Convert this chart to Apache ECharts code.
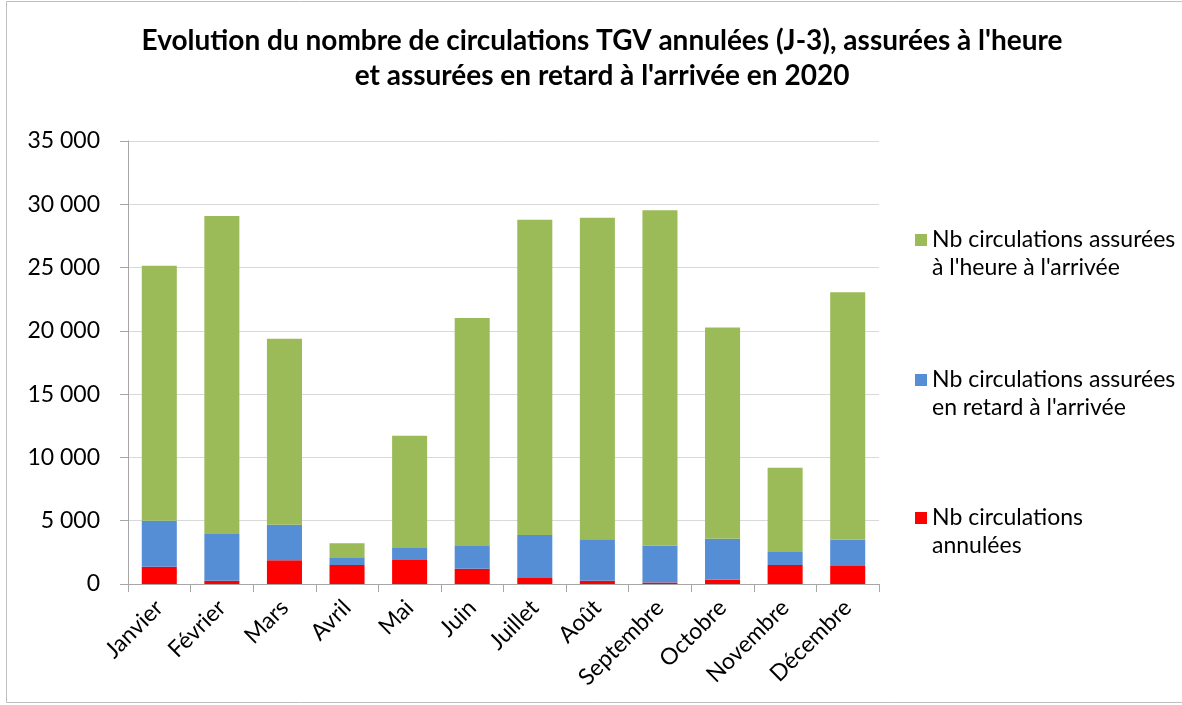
<!DOCTYPE html>
<html>
<head>
<meta charset="utf-8">
<script src="https://cdn.jsdelivr.net/npm/echarts@6/dist/echarts.min.js"></script>
<style>html,body{margin:0;padding:0;background:#fff;}#c{width:1182px;height:705px;}</style>
</head>
<body>
<div id="c"></div>
<script>
const months = ['Janvier','Février','Mars','Avril','Mai','Juin','Juillet','Août','Septembre','Octobre','Novembre','Décembre'];
const annulees = [1370, 260, 1870, 1500, 1900, 1210, 470, 260, 120, 340, 1500, 1420];
const retard = [3630, 3690, 2820, 550, 940, 1790, 3400, 3270, 2930, 3240, 1030, 2080];
const heure = [20150, 25120, 14690, 1160, 8880, 18010, 24910, 25400, 26470, 16690, 6660, 19560];
const yTicks = [0, 5000, 10000, 15000, 20000, 25000, 30000, 35000];
const names = {
  heure: 'Nb circulations assurées à l\'heure à l\'arrivée',
  retard: 'Nb circulations assurées en retard à l\'arrivée',
  annulees: 'Nb circulations annulées'
};
const legendText = {};
legendText[names.heure] = 'Nb circulations assurées\nà l\'heure à l\'arrivée';
legendText[names.retard] = 'Nb circulations assurées\nen retard à l\'arrivée';
legendText[names.annulees] = 'Nb circulations\nannulées';

const FONT = 'Lato, "Open Sans", sans-serif';
const chart = echarts.init(document.getElementById('c'), null, {renderer: 'canvas'});
function fmt(v){ return String(v).replace(/\B(?=(\d{3})+(?!\d))/g, ' '); }
function legendFor(name, top){
  return {
    data: [name], orient: 'vertical', left: 915, top: top, padding: 0,
    icon: 'path://M0,0L12,0L12,12L0,12Z M0,40L0.01,40',
    itemWidth: 12, itemHeight: 40, itemGap: 0,
    selectedMode: false,
    formatter: n => legendText[n],
    textStyle: {fontFamily: FONT, fontSize: 23, color: '#000', lineHeight: 28}
  };
}
chart.setOption({
  animation: false,
  textStyle: {fontFamily: FONT},
  title: {
    text: 'Evolution du nombre de circulations TGV annulées (J-3), assurées à l\'heure\net assurées en retard à l\'arrivée en 2020',
    left: 597, top: 18, textAlign: 'center',
    textStyle: {fontFamily: FONT, fontSize: 28, fontWeight: 'bold', color: '#000', lineHeight: 35}
  },
  legend: [legendFor(names.heure, 226), legendFor(names.retard, 366), legendFor(names.annulees, 504)],
  grid: {left: 128, right: 303, top: 141, bottom: 121, containLabel: false},
  xAxis: {
    type: 'category', data: months,
    axisLine: {lineStyle: {color: '#a6a6a6', width: 1}},
    axisTick: {show: true, length: 8, lineStyle: {color: '#a6a6a6'}},
    axisLabel: {rotate: 45, fontSize: 23, color: '#000', fontFamily: FONT, margin: 20, interval: 0}
  },
  yAxis: {
    type: 'value', min: yTicks[0], max: yTicks[yTicks.length-1], interval: 5000,
    axisLine: {show: true, lineStyle: {color: '#a6a6a6'}},
    axisTick: {show: true, length: 8, lineStyle: {color: '#a6a6a6'}},
    splitLine: {lineStyle: {color: '#d9d9d9'}},
    axisLabel: {fontSize: 23, color: '#000', fontFamily: FONT, margin: 28, formatter: fmt}
  },
  graphic: [{type: 'rect', shape: {x: 6.5, y: 1.5, width: 1200, height: 701}, style: {fill: 'none', stroke: '#bfbfbf', lineWidth: 1}, silent: true}],
  series: [
    {name: names.annulees, type: 'bar', stack: 's', data: annulees, barWidth: '56%', itemStyle: {color: '#ff0000'}},
    {name: names.retard, type: 'bar', stack: 's', data: retard, barWidth: '56%', itemStyle: {color: '#558ed5'}},
    {name: names.heure, type: 'bar', stack: 's', data: heure, barWidth: '56%', itemStyle: {color: '#9bbb59'}}
  ]
});
</script>
</body>
</html>
